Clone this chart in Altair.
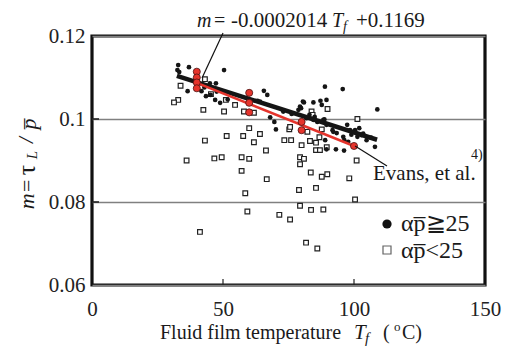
import altair as alt
import pandas as pd

# ---------------- data ----------------
black_T = [32.9, 32.6, 37.0, 50.4, 36.5, 41.8, 45.0, 47.3, 43.5, 45.3, 47.0, 48.9, 51.8, 47.6, 42.9, 33.3,
           65.6, 66.9, 63.2, 64.1, 73.0, 76.2, 68.0, 69.6, 70.2,
           78.8, 79.4, 80.5, 79.8, 80.9, 84.5, 87.2, 89.5, 87.7, 83.0, 85.0,
           88.9, 95.7, 108.9,
           81.9, 84.5, 86.0, 88.3, 88.7, 89.5, 91.8, 93.4, 92.1, 97.4, 98.5, 100.4, 102.0, 102.9, 104.8,
           101.3, 106.5, 97.8, 95.9, 89.0, 96.3, 89.5, 93.1, 96.2, 108.0, 99.0, 103.5]
black_m = [0.1130, 0.1118, 0.1125, 0.1118, 0.1067, 0.1067, 0.1086, 0.1086, 0.1055, 0.1058, 0.1046, 0.1039, 0.1047, 0.1066, 0.1076, 0.1113,
           0.1068, 0.1058, 0.1044, 0.1042, 0.1018, 0.1012, 0.1004, 0.0993, 0.0975,
           0.1022, 0.1030, 0.1042, 0.1026, 0.1040, 0.1040, 0.1044, 0.1046, 0.1034, 0.1010, 0.1005,
           0.1078, 0.1072, 0.1023,
           0.1002, 0.0998, 0.0993, 0.0998, 0.0999, 0.0986, 0.0973, 0.0966, 0.0969, 0.0986, 0.0973, 0.0973, 0.0978, 0.0961, 0.0949,
           0.0957, 0.0955, 0.0945, 0.0957, 0.0949, 0.0949, 0.0927, 0.0927, 0.0924, 0.0933, 0.0962, 0.0965]

sq_T = [33.8, 32.9, 31.3, 43.1, 42.5, 45.4, 50.4, 51.1, 54.6, 58.0, 61.8, 60.0, 64.1, 43.1, 51.4, 57.7,
        61.8, 66.4, 73.4, 76.0, 75.3, 75.6, 80.0, 82.2, 83.2, 85.5, 86.8, 87.7, 83.8, 84.2, 89.9, 85.5,
        87.0, 89.6, 101.3,
        36.1, 46.7, 49.5, 57.1, 60.0, 79.4, 80.9, 79.4, 57.1, 66.7, 58.5, 79.0, 83.5, 87.7, 89.8, 85.5,
        98.2, 101.0, 100.4, 59.3, 71.5, 75.6, 79.4, 83.6, 88.3, 41.2, 81.7, 86.0]
sq_m = [0.1080, 0.1046, 0.1040, 0.1096, 0.1022, 0.1060, 0.1018, 0.1046, 0.1034, 0.1018, 0.1015, 0.0978, 0.0964, 0.0948, 0.0959, 0.0959,
        0.0944, 0.0924, 0.0949, 0.0949, 0.0975, 0.0981, 0.0937, 0.0969, 0.0947, 0.0943, 0.0956, 0.0975, 0.1018, 0.1010, 0.1024, 0.0925,
        0.0925, 0.0932, 0.1000,
        0.0900, 0.0905, 0.0908, 0.0908, 0.0904, 0.0908, 0.0904, 0.0891, 0.0875, 0.0855, 0.0821, 0.0829, 0.0871, 0.0861, 0.0867, 0.0834,
        0.0857, 0.0900, 0.0806, 0.0777, 0.0769, 0.0758, 0.0791, 0.0781, 0.0782, 0.0728, 0.0702, 0.0688]

red_T = [40, 40, 40, 40, 60, 60, 60, 80, 80, 100]
red_m = [0.1114, 0.1100, 0.1088, 0.1074, 0.1063, 0.1039, 0.1016, 0.0993, 0.0973, 0.0935]

fit_T = [32.4, 108.8]
fit_m = [0.1104, 0.0950]
evans_T = [40.0, 100.0]
evans_m = [0.1087, 0.0935]

lead_top_T = [50.0, 42.0]
lead_top_m = [0.1207, 0.1099]
lead_ev_T = [100.4, 112.6]
lead_ev_m = [0.0935, 0.0887]

x_ticks = [0, 50, 100, 150]
y_ticks = [0.06, 0.08, 0.10, 0.12]
inner_x_ticks = [50, 100]
inner_y_ticks = [0.08, 0.10]

W, H = 393, 249
FONT = "Liberation Serif"
RED = "#e5342c"

xs = alt.Scale(domain=[0, 150], nice=False)
ys = alt.Scale(domain=[0.06, 0.12], nice=False, zero=False)

base_x = alt.X("T:Q", scale=xs,
               axis=alt.Axis(values=x_ticks, title=None, grid=False, domain=False, ticks=False,
                             labelFont=FONT, labelFontSize=21, labelColor="#222", labelPadding=13,
                             labelFlush=False))
base_y = alt.Y("m:Q", scale=ys,
               axis=alt.Axis(values=y_ticks, title=None, format=".2~f", grid=True, gridColor="#808080",
                             gridWidth=1.6, domain=False, ticks=False, labelFont=FONT, labelFontSize=21,
                             labelColor="#222", labelPadding=7, labelFlush=False))

sq_df = pd.DataFrame({"T": sq_T, "m": sq_m})
bl_df = pd.DataFrame({"T": black_T, "m": black_m})
red_df = pd.DataFrame({"T": red_T, "m": red_m})
fit_df = pd.DataFrame({"T": fit_T, "m": fit_m})
ev_df = pd.DataFrame({"T": evans_T, "m": evans_m})

squares = alt.Chart(sq_df).mark_point(shape="square", filled=False, size=22, strokeWidth=1.2,
                                      color="#222", fill="white", fillOpacity=1).encode(x=base_x, y=base_y)
dots = alt.Chart(bl_df).mark_circle(size=22, color="#151515", opacity=1).encode(x="T:Q", y="m:Q")
fit_line = alt.Chart(fit_df).mark_line(color="#151515", strokeWidth=4.5).encode(x="T:Q", y="m:Q")
ev_line = alt.Chart(ev_df).mark_line(color=RED, strokeWidth=2.5).encode(x="T:Q", y="m:Q")
red_pts = alt.Chart(red_df).mark_point(shape="circle", filled=True, size=50, fill=RED, fillOpacity=1,
                                       stroke="#4a1010", strokeWidth=0.8).encode(x="T:Q", y="m:Q")

lead1 = alt.Chart(pd.DataFrame({"T": lead_top_T, "m": lead_top_m})).mark_line(
    color="#111", strokeWidth=1.2, clip=False).encode(x="T:Q", y="m:Q")
lead2 = alt.Chart(pd.DataFrame({"T": lead_ev_T, "m": lead_ev_m})).mark_line(
    color="#111", strokeWidth=1.2, clip=False).encode(x="T:Q", y="m:Q")

xt = alt.Chart(pd.DataFrame({"T": inner_x_ticks})).mark_rule(color="#222", strokeWidth=1.2).encode(
    x="T:Q", y=alt.value(H), y2=alt.value(H - 6))
yt = alt.Chart(pd.DataFrame({"m": inner_y_ticks})).mark_rule(color="#222", strokeWidth=1.6).encode(
    y="m:Q", x=alt.value(0), x2=alt.value(7))


def txt(s, x, y, size=20, style="normal", align="left", baseline="alphabetic", angle=0, color="#1a1a1a"):
    kw = dict(font=FONT, fontSize=size, fontStyle=style, align=align, baseline=baseline, color=color)
    if angle:
        kw["angle"] = angle
    return alt.Chart(pd.DataFrame({"s": [s]})).mark_text(**kw).encode(
        text="s:N", x=alt.value(x), y=alt.value(y))


texts = [
    # equation on top
    txt("m", 105, -9, 20, "italic"),
    txt("=", 122, -9, 20),
    txt("-0.0002014", 139, -9, 21),
    txt("T", 240, -9, 20, "italic"),
    txt("f", 251, -5, 14, "italic"),
    txt("+0.1169", 264, -9, 21),
    # x title
    txt("Fluid film temperature", 68, 303, 20),
    txt("T", 262, 303, 21, "italic"),
    txt("f", 273, 307, 15, "italic"),
    txt("(", 291, 303, 20),
    txt("o", 302, 295, 13),
    txt("C)", 310, 303, 20),
    # y title (rotated)
    txt("m=", -65, 158, 22, "italic", "center", "middle", 270),
    txt("\u03c4", -65, 134, 26, "normal", "center", "middle", 270),
    txt("L", -60, 119, 15, "italic", "center", "middle", 270),
    txt("/", -65, 104, 21, "italic", "center", "middle", 270),
    txt("p\u0305", -63, 88, 22, "italic", "center", "middle", 270),
    # Evans annotation
    txt("Evans, et al.", 281, 144, 21),
    txt("4)", 379, 123, 14),
    # legend
    txt("\u03b1p\u0305\u226725", 309, 188, 24, "normal", "left", "middle"),
    txt("\u03b1p\u0305<25", 309, 215, 24, "normal", "left", "middle"),
]

leg_c = alt.Chart(pd.DataFrame({"k": [1]})).mark_point(shape="circle", filled=True, size=85, color="#111",
                                                       fillOpacity=1).encode(x=alt.value(295), y=alt.value(188))
leg_s = alt.Chart(pd.DataFrame({"k": [1]})).mark_point(shape="square", filled=False, size=64, color="#222",
                                                       strokeWidth=1.2).encode(x=alt.value(295), y=alt.value(214))

chart = alt.layer(squares, dots, fit_line, ev_line, red_pts, lead1, lead2, xt, yt, leg_c, leg_s, *texts).properties(
    width=W, height=H,
    autosize=alt.AutoSizeParams(type="none"),
    padding={"left": 84, "top": 28, "right": 19, "bottom": 66},
    background="white",
).configure_view(stroke="#111", strokeWidth=3.2)

chart.save("out.html", embed_options={"renderer": "svg", "actions": False})
